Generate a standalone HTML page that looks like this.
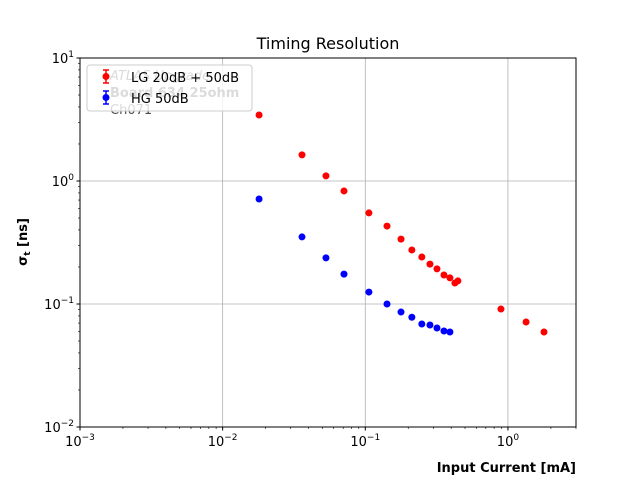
<!DOCTYPE html>
<html><head><meta charset="utf-8"><style>
body{margin:0;background:#fff}
svg{display:block;font-family:"DejaVu Sans","Liberation Sans",sans-serif}
</style></head><body>
<svg id="chart" width="640" height="480">
<rect width="640" height="480" fill="#fff"/>
<text x="328" y="49" text-anchor="middle" font-size="16">Timing Resolution</text>
<g id="grid"></g>
<g id="ticks"></g>
<g id="annot" fill="#4a4a4a" font-size="13" font-weight="bold">
<text x="110" y="80" font-style="italic" font-weight="normal">ATLAS Upgrade</text>
<text x="110" y="97">Board 634 25ohm</text>
<text x="110" y="114" font-weight="normal">Ch071</text>
</g>
<g id="points"></g>
<rect x="80" y="58" width="496" height="369" fill="none" stroke="#000" stroke-width="1"/>
<g>
<rect x="87" y="65" width="165" height="46" rx="3" fill="#fff" fill-opacity="0.8" stroke="#ccc"/>
<g>
<line x1="106" y1="70" x2="106" y2="83" stroke="red" stroke-width="1.5"/><line x1="103" y1="70" x2="109" y2="70" stroke="red" stroke-width="1.5"/><line x1="103" y1="83" x2="109" y2="83" stroke="red" stroke-width="1.5"/><circle cx="106" cy="76.5" r="3.5" fill="red"/>
<text x="131" y="82" font-size="13">LG 20dB + 50dB</text></g>
<g>
<line x1="106" y1="91" x2="106" y2="104" stroke="blue" stroke-width="1.5"/><line x1="103" y1="91" x2="109" y2="91" stroke="blue" stroke-width="1.5"/><line x1="103" y1="104" x2="109" y2="104" stroke="blue" stroke-width="1.5"/><circle cx="106" cy="97.5" r="3.5" fill="blue"/>
<text x="131" y="103" font-size="13">HG 50dB</text></g>
</g>
<text x="576" y="472" text-anchor="end" font-size="13" font-weight="bold">Input Current [mA]</text>
<text transform="translate(27,242) rotate(-90)" text-anchor="middle" font-size="13" font-weight="bold">σ<tspan font-size="9" dy="3">t</tspan><tspan dy="-3"> [ns]</tspan></text>
</svg>
<script>
const lgX=[0.0180,0.0360,0.0530,0.0709,0.106,0.142,0.178,0.212,0.249,0.284,0.318,0.356,0.392,0.425,0.446,0.893,1.34,1.79];
const lgY=[3.44,1.63,1.10,0.83,0.55,0.43,0.337,0.275,0.241,0.211,0.193,0.172,0.163,0.148,0.154,0.091,0.0714,0.0592];
const hgX=[0.0180,0.0360,0.0530,0.0709,0.106,0.142,0.178,0.212,0.249,0.284,0.318,0.356,0.392];
const hgY=[0.714,0.351,0.237,0.175,0.125,0.100,0.086,0.078,0.0688,0.0675,0.0638,0.0603,0.0592];
const xDecades=[-3,-2,-1,0];
const yDecades=[-2,-1,0,1];
const NS='http://www.w3.org/2000/svg';
const X0=80,X1=576,Y0=427,Y1=58;
const xmin=-3,xmax=Math.log10(3),ymin=-2,ymax=1;
function sx(v){return X0+(Math.log10(v)-xmin)/(xmax-xmin)*(X1-X0);}
function sy(v){return Y0-(Math.log10(v)-ymin)/(ymax-ymin)*(Y0-Y1);}
function mk(t,a,p){const e=document.createElementNS(NS,t);for(const k in a)e.setAttribute(k,a[k]);p.appendChild(e);return e;}
const grid=document.getElementById('grid'),ticks=document.getElementById('ticks'),pts=document.getElementById('points');
xDecades.forEach(d=>{
 const x=sx(Math.pow(10,d));
 const g=mk('line',{x1:x,x2:x,y1:Y1,y2:Y0,stroke:'#b0b0b0','stroke-width':0.8},grid);
 
 
 mk('line',{x1:x,x2:x,y1:Y0,y2:Y0+3.5,stroke:'#000'},ticks);
 const t=mk('text',{x:x,y:Y0+19,'text-anchor':'middle','font-size':13},ticks);
 
 
 t.innerHTML='10<tspan font-size="9" dy="-6">'+(d<0?'−'+(-d):d)+'</tspan>';
 for(let m=2;m<10;m++){const v=m*Math.pow(10,d);if(Math.log10(v)<=xmax)mk('line',{x1:sx(v),x2:sx(v),y1:Y0,y2:Y0+2,stroke:'#000','stroke-width':0.6},ticks);}
});
yDecades.forEach(d=>{
 const y=sy(Math.pow(10,d));
 const g=mk('line',{x1:X0,x2:X1,y1:y,y2:y,stroke:'#b0b0b0','stroke-width':0.8},grid);
 
 
 mk('line',{x1:X0-3.5,x2:X0,y1:y,y2:y,stroke:'#000'},ticks);
 const t=mk('text',{x:X0-6,y:y+5,'text-anchor':'end','font-size':13},ticks);
 
 
 t.innerHTML='10<tspan font-size="9" dy="-6">'+(d<0?'−'+(-d):d)+'</tspan>';
 if(d<1)for(let m=2;m<10;m++)mk('line',{x1:X0-2,x2:X0,y1:sy(m*Math.pow(10,d)),y2:sy(m*Math.pow(10,d)),stroke:'#000','stroke-width':0.6},ticks);
});
lgX.forEach((v,i)=>{
 const c=mk('circle',{cx:sx(v),cy:sy(lgY[i]),r:3.5,fill:'red'},pts);
 
 
});
hgX.forEach((v,i)=>{
 const c=mk('circle',{cx:sx(v),cy:sy(hgY[i]),r:3.5,fill:'blue'},pts);
 
 
});
</script>
</body></html>
